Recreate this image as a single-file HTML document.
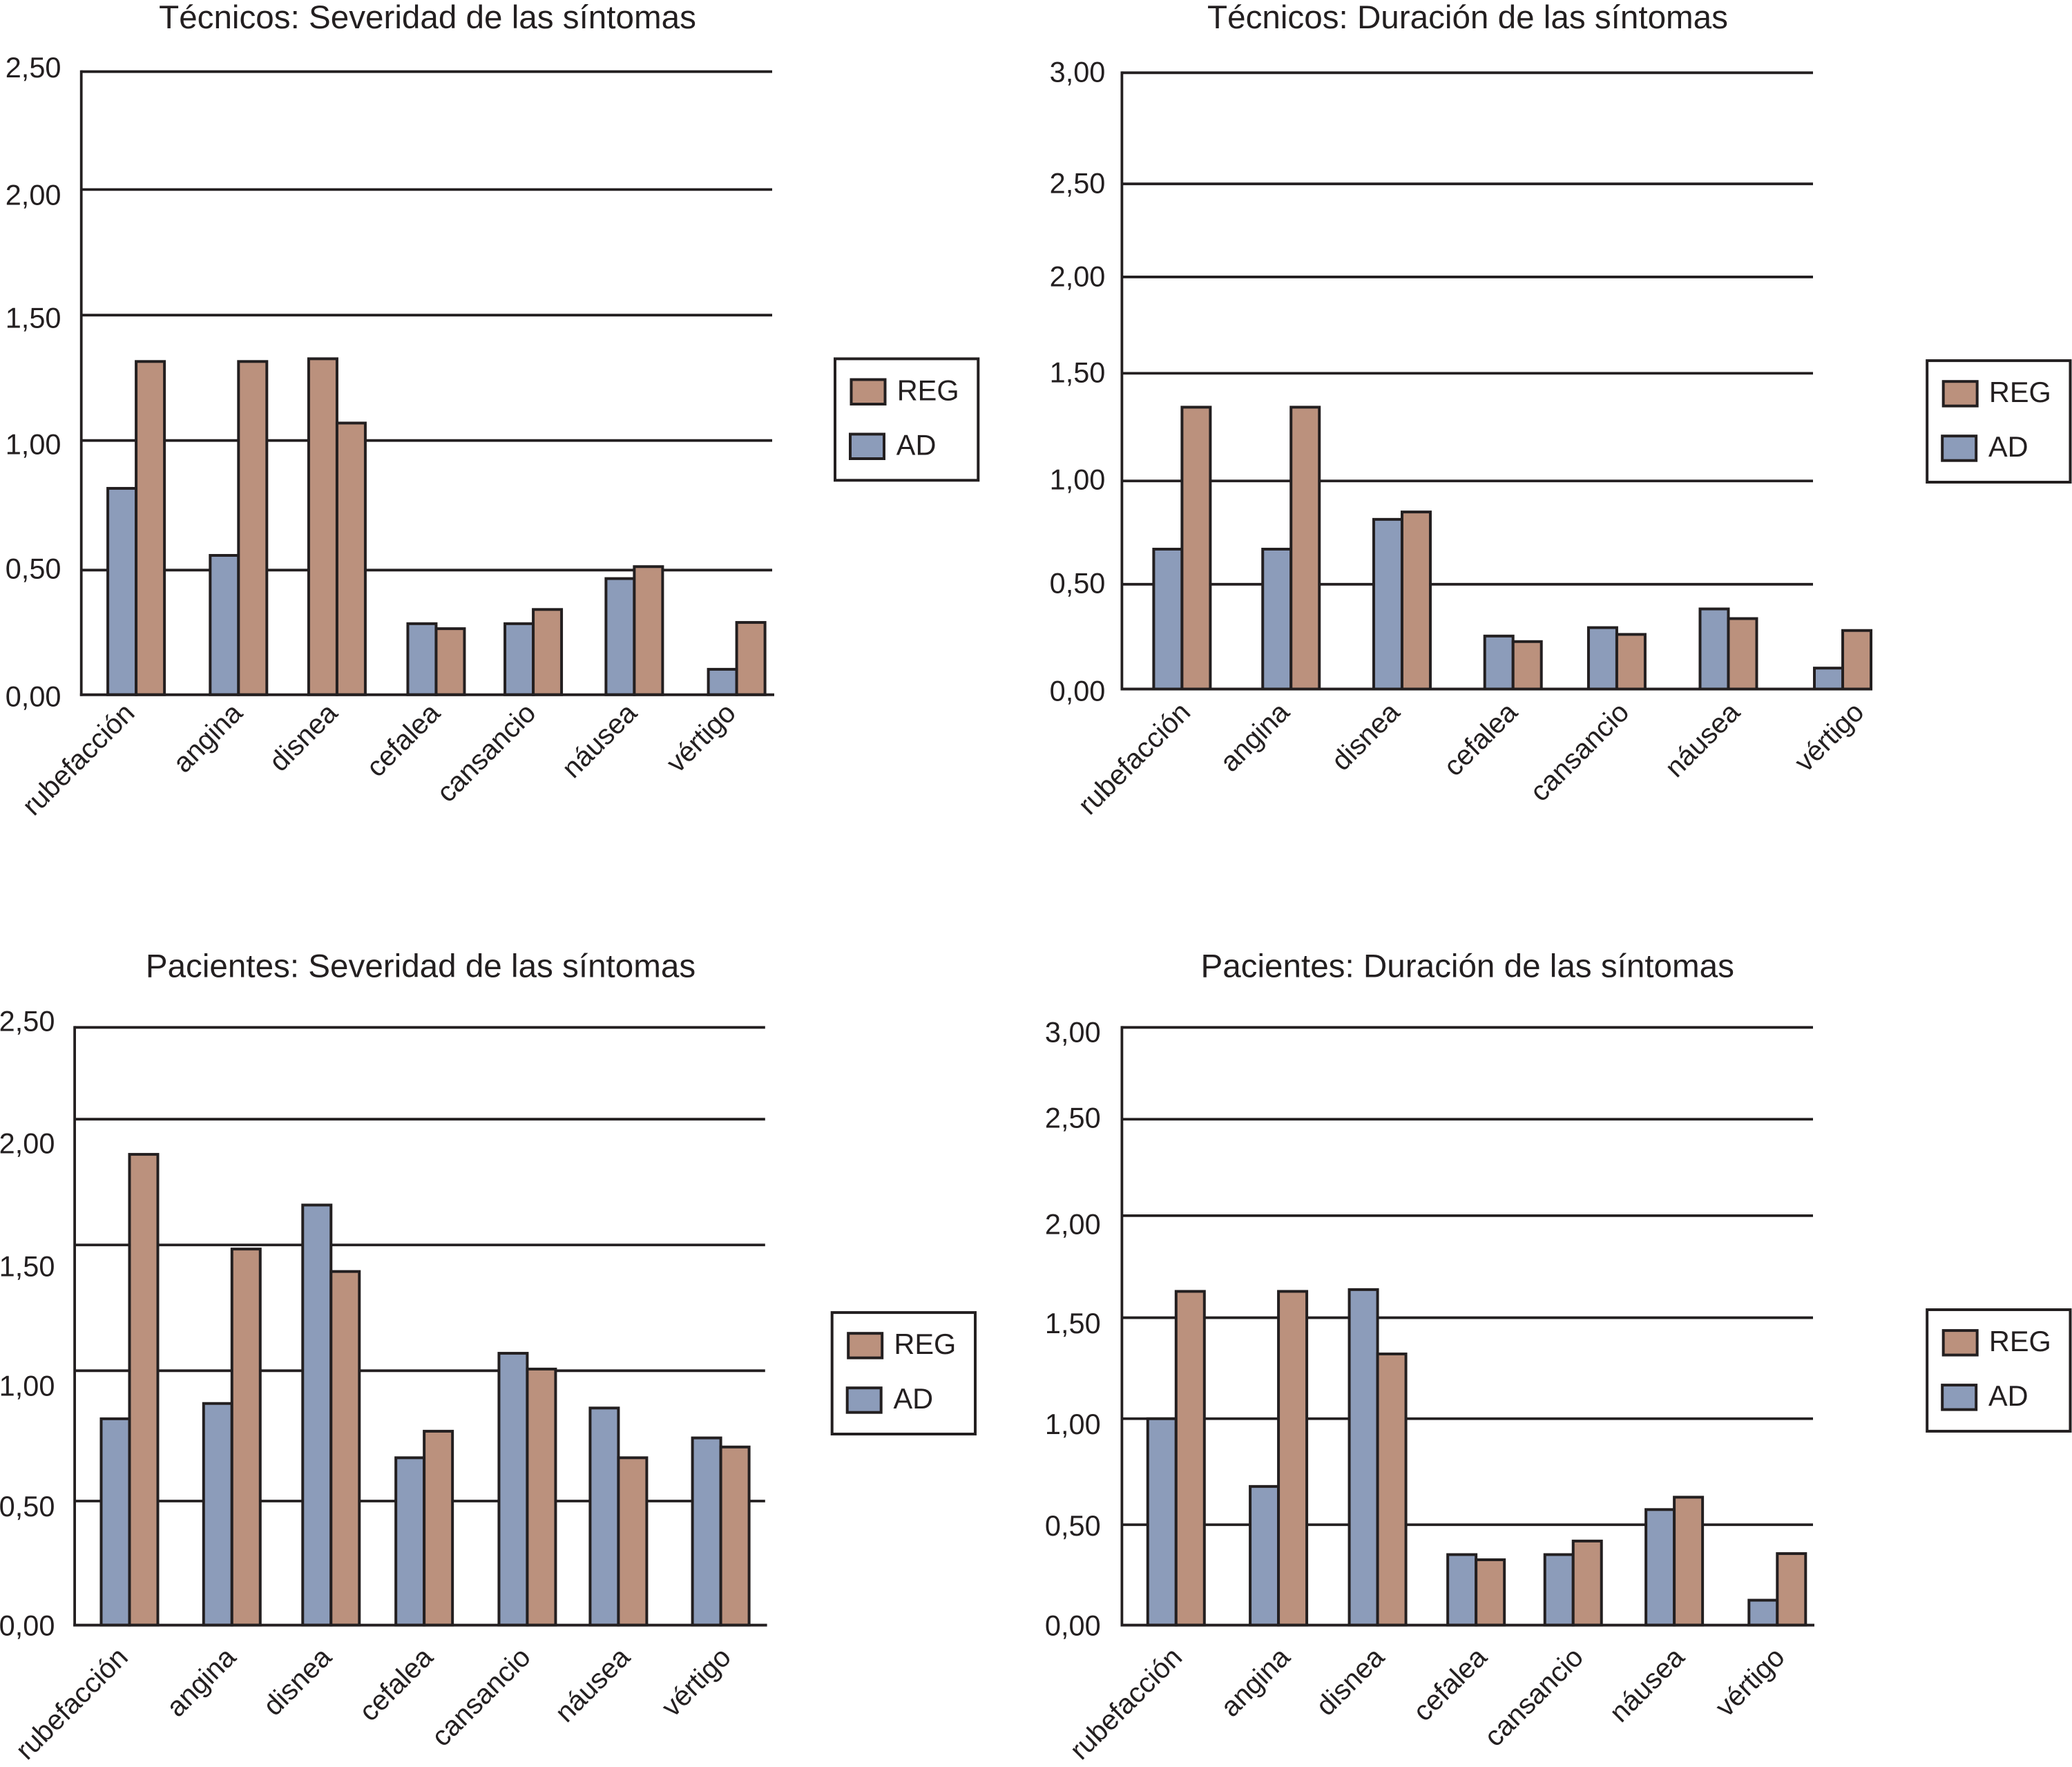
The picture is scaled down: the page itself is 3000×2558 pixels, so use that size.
<!DOCTYPE html>
<html lang="es">
<head>
<meta charset="utf-8">
<title>Severidad y duración de los síntomas</title>
<style>
html,body{margin:0;padding:0;background:#fff;}
svg{display:block;}
text{font-family:"Liberation Sans",Arial,sans-serif;fill:#231f20;}
.title{font-size:47.6px;text-anchor:middle;}
.tick{font-size:41.5px;text-anchor:end;}
.cat{font-size:40.5px;text-anchor:end;}
.lg{font-size:41.5px;}
.box{fill:#fff;stroke:#231f20;stroke-width:4;}
.sw{stroke:#231f20;stroke-width:4;}
.reg{fill:#bb917d;}
.ad{fill:#8c9cba;}
</style>
</head>
<body>
<svg id="figure" xmlns="http://www.w3.org/2000/svg" width="3000" height="2558" viewBox="0 0 3000 2558">
  <rect width="3000" height="2558" fill="#fff"/>

  <g id="p1">
    <text class="title" x="619" y="41">Técnicos: Severidad de las síntomas</text>
    <g>
      <rect class="box" x="1209" y="519.4" width="207.3" height="175.9"/>
      <rect class="sw reg" x="1232.5" y="549.5" width="49" height="35.5"/>
      <text class="lg" x="1298.7" y="579.3">REG</text>
      <rect class="sw ad" x="1231" y="628.5" width="49" height="35.5"/>
      <text class="lg" x="1297.8" y="658.3">AD</text>
    </g>
  </g>

  <g id="p2">
    <text class="title" x="2125" y="41">Técnicos: Duración de las síntomas</text>
    <g transform="translate(-2,-2)">
      <rect class="box" x="2792.2" y="524.1" width="207.3" height="175.9"/>
      <rect class="sw reg" x="2815.7" y="554.2" width="49" height="35.5"/>
      <text class="lg" x="2881.9" y="584">REG</text>
      <rect class="sw ad" x="2814.2" y="633.2" width="49" height="35.5"/>
      <text class="lg" x="2881" y="663">AD</text>
    </g>
  </g>

  <g id="p3">
    <text class="title" x="609" y="1414.7">Pacientes: Severidad de las síntomas</text>
    <g transform="translate(-2,-2)">
      <rect class="box" x="1206.7" y="1902.1" width="207.3" height="175.9"/>
      <rect class="sw reg" x="1230.2" y="1932.2" width="49" height="35.5"/>
      <text class="lg" x="1296.4" y="1962">REG</text>
      <rect class="sw ad" x="1228.7" y="2011.2" width="49" height="35.5"/>
      <text class="lg" x="1295.5" y="2041">AD</text>
    </g>
  </g>

  <g id="p4">
    <text class="title" x="2124.7" y="1414.7">Pacientes: Duración de las síntomas</text>
    <g transform="translate(-2,-2)">
      <rect class="box" x="2792.2" y="1898" width="207.3" height="175.9"/>
      <rect class="sw reg" x="2815.7" y="1928.1" width="49" height="35.5"/>
      <text class="lg" x="2881.9" y="1957.9">REG</text>
      <rect class="sw ad" x="2814.2" y="2007.1" width="49" height="35.5"/>
      <text class="lg" x="2881" y="2036.9">AD</text>
    </g>
  </g>
</svg>

<script>
// ---- data -------------------------------------------------------------
const categories = ['rubefacción','angina','disnea','cefalea','cansancio','náusea','vértigo'];

const tickLabelsSeveridad = ['0,00','0,50','1,00','1,50','2,00','2,50'];
const tickLabelsDuracion  = ['0,00','0,50','1,00','1,50','2,00','2,50','3,00'];

// Técnicos: severidad
const tecSevAD  = [0.828,0.559,1.348,0.285,0.285,0.466,0.102];
const tecSevREG = [1.337,1.337,1.090,0.265,0.342,0.514,0.290];
const tecSevRules  = [0.500,1.020,1.523,2.027,2.500];
const tecSevLabels = [-0.012,0.501,1.000,1.507,2.000,2.511];

// Técnicos: duración
const tecDurAD  = [0.681,0.681,0.826,0.258,0.299,0.390,0.102];
const tecDurREG = [1.372,1.372,0.862,0.231,0.266,0.343,0.285];
const tecDurRules  = [0.510,1.013,1.537,2.006,2.459,3.000];
const tecDurLabels = [-0.015,0.509,1.014,1.535,2.002,2.456,2.998];

// Pacientes: severidad
const pacSevAD  = [0.863,0.927,1.757,0.700,1.137,0.908,0.783];
const pacSevREG = [1.969,1.573,1.479,0.811,1.071,0.700,0.745];
const pacSevRules  = [0.519,1.064,1.590,2.116,2.500];
const pacSevLabels = [-0.007,0.492,0.995,1.495,2.010,2.521];

// Pacientes: duración
const pacDurAD  = [1.036,0.696,1.684,0.354,0.354,0.580,0.125];
const pacDurREG = [1.675,1.675,1.361,0.328,0.422,0.642,0.359];
const pacDurRules  = [0.504,1.036,1.543,2.055,2.539,3.000];
const pacDurLabels = [-0.008,0.492,1.002,1.509,2.006,2.540,2.970];

// ---- layout (plot frames, separate from the data) ----------------------
const SVGNS = 'http://www.w3.org/2000/svg';
const INK = '#231f20';
const FILL_AD = '#8c9cba';
const FILL_REG = '#bb917d';
const BAR_W = 41;
const TICK_DY = 12.5;

const panels = [
  { id:'p1', ad:tecSevAD, reg:tecSevREG, rules:tecSevRules, ticks:tickLabelsSeveridad, levels:tecSevLabels,
    max:2.5, axisX:117.7, gridEnd:1118, baseEnd:1121, top:103.7, base:1005.7,
    firstX:197.1, lastX:1066.6, tickX:88.5,
    shift:[0,3.3,1,-0.4,-4.7,-3.3,0], labelDx:[0,8,3,8,6,6,1], labelDrop:29, brownAD:[2] },
  { id:'p2', ad:tecDurAD, reg:tecDurREG, rules:tecDurRules, ticks:tickLabelsDuracion, levels:tecDurLabels,
    max:3, axisX:1624.4, gridEnd:2625, baseEnd:2710, top:105.3, base:997.5,
    firstX:1711.4, lastX:2668, tickX:1600.4,
    shift:[0,-1.6,-0.3,1,-8.2,-6.1,0], labelDx:[14.4,0,-1,8.6,20,19,33], labelDrop:36, brownAD:[] },
  { id:'p3', ad:pacSevAD, reg:pacSevREG, rules:pacSevRules, ticks:tickLabelsSeveridad, levels:pacSevLabels,
    max:2.5, axisX:108.1, gridEnd:1107.8, baseEnd:1110.6, top:1487.3, base:2352.6,
    firstX:187.5, lastX:1043.6, tickX:79.4,
    shift:[0,5.6,6.4,-1.4,5.2,-5.5,0], labelDx:[0,8,3,15,7,19,17], labelDrop:49, brownAD:[] },
  { id:'p4', ad:pacDurAD, reg:pacDurREG, rules:pacDurRules, ticks:tickLabelsDuracion, levels:pacDurLabels,
    max:3, axisX:1624.4, gridEnd:2625, baseEnd:2627, top:1487.3, base:2352.6,
    firstX:1702.8, lastX:2573.3, tickX:1593.7,
    shift:[0,3.2,1.6,-0.9,-5.4,-4.1,0], labelDx:[11,19,12,18,17,17,13], labelDrop:49, brownAD:[] }
];

function svgEl(tag, attrs, parent) {
  const el = document.createElementNS(SVGNS, tag);
  for (const key in attrs) el.setAttribute(key, attrs[key]);
  parent.appendChild(el);
  return el;
}

function drawPanel(p) {
  const root = document.getElementById(p.id);
  const yScale = v => p.base - (v / p.max) * (p.base - p.top);
  const xScale = i => p.firstX + i * (p.lastX - p.firstX) / (categories.length - 1) + p.shift[i];

  // horizontal rules
  p.rules.forEach(level => {
    const rule = svgEl('line', {x1:p.axisX, x2:p.gridEnd, y1:yScale(level), y2:yScale(level), stroke:INK, 'stroke-width':3.8}, root);
    
    
  });

  // y axis line
  const yAxis = svgEl('line', {x1:p.axisX, x2:p.axisX, y1:p.top - 1.9, y2:p.base + 1.9, stroke:INK, 'stroke-width':3.8}, root);
  
  

  // y tick labels
  p.ticks.forEach((label, i) => {
    const t = svgEl('text', {class:'tick', x:p.tickX, y:yScale(p.levels[i]) + TICK_DY}, root);
    t.textContent = label;
    
    
  });

  // bars
  categories.forEach((name, i) => {
    const cx = xScale(i);
    const adFill = p.brownAD.includes(i) ? FILL_REG : FILL_AD;
    const yAd = yScale(p.ad[i]);
    const yReg = yScale(p.reg[i]);
    const adBar = svgEl('rect', {x:cx - BAR_W, y:yAd, width:BAR_W, height:p.base - yAd, fill:adFill, stroke:INK, 'stroke-width':4}, root);
    
    
    const regBar = svgEl('rect', {x:cx, y:yReg, width:BAR_W, height:p.base - yReg, fill:FILL_REG, stroke:INK, 'stroke-width':4}, root);
    
    

    // category label
    const lx = cx + p.labelDx[i];
    const ly = p.base + p.labelDrop;
    const t = svgEl('text', {class:'cat', x:lx, y:ly, transform:'rotate(-45 ' + lx + ' ' + ly + ')'}, root);
    t.textContent = name;
    
    
  });

  // baseline
  const baseline = svgEl('line', {x1:p.axisX - 1.9, x2:p.baseEnd, y1:p.base, y2:p.base, stroke:INK, 'stroke-width':4}, root);
  
  
}

panels.forEach(drawPanel);
</script>
</body>
</html>
